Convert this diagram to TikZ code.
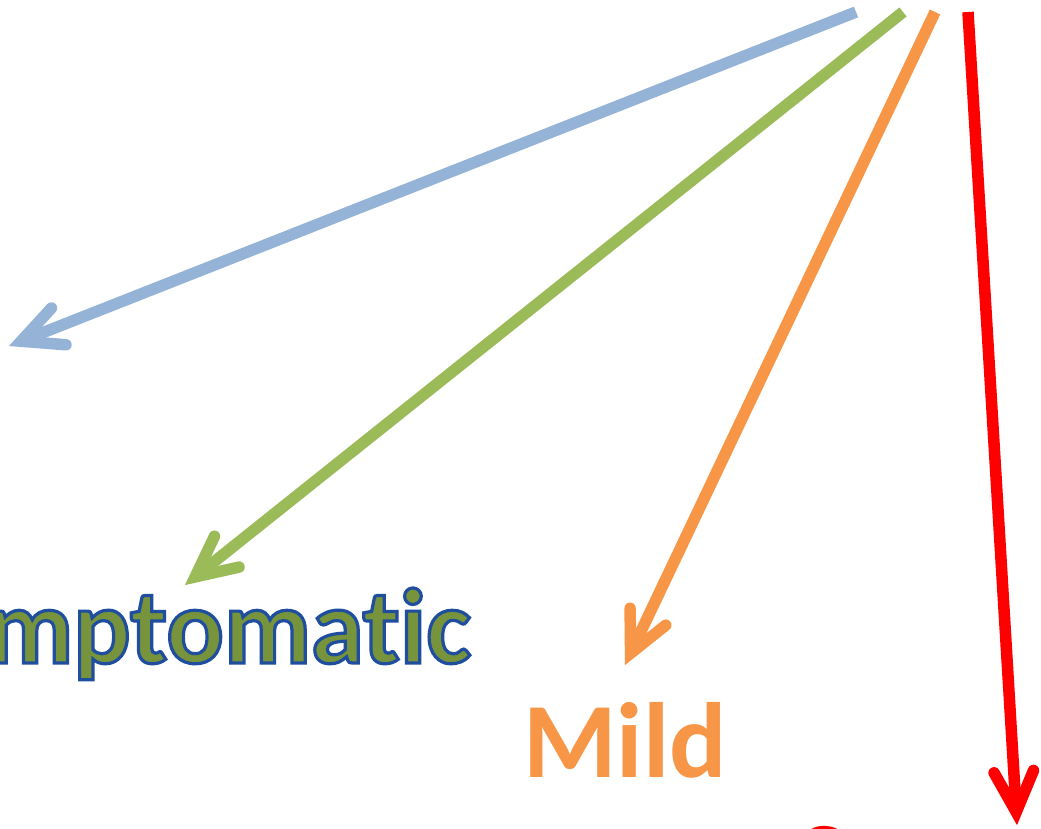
\documentclass[tikz,border=0pt]{standalone}
\usepackage{fontspec}
\setmainfont{Carlito}[Ligatures={NoCommon,NoContextual}]
\usetikzlibrary{calc}
\definecolor{arrowblue}{HTML}{95B3D7}
\definecolor{arrowgreen}{HTML}{9BBB59}
\definecolor{arroworange}{HTML}{F79646}
\definecolor{arrowred}{HTML}{FF0000}
\definecolor{textgreen}{HTML}{77933C}
\definecolor{outlineblue}{HTML}{1F4E9F}
\newcommand{\outlinedtext}[1]{\special{pdf:literal direct 2 Tr 3.2 w 0.122 0.306 0.624 RG}#1\special{pdf:literal direct 0 Tr}}
\tikzset{
  arrowline/.style={line width=11.5pt, line cap=butt},
  arrowbarb/.style={line width=11.5pt, line cap=round, line join=miter, miter limit=10},
  bigtext/.style={inner sep=0pt, font=\fontsize{107}{120}\selectfont\bfseries}
}
\begin{document}
\begin{tikzpicture}[x=1pt,y=-1pt]
\useasboundingbox (0,0) rectangle (1041,828);
\clip (0,0) rectangle (1041,828);
\fill[white] (0,0) rectangle (1041,828);
\foreach \n/\sx/\sy/\tx/\ty/\c in {a/856/12/9/346/arrowblue, b/903/12/185/585/arrowgreen, c/935/12/625/665/arroworange, d/968/12/1017/825/arrowred}{
  \coordinate (\n s) at (\sx,\sy);
  \coordinate (\n t) at (\tx,\ty);
  \coordinate (\n v) at ($(\n t)!13pt!(\n s)$);
  \draw[arrowline, \c] (\n s) -- (\n v);
  \draw[arrowbarb, \c] ($(\n v)!45pt!26:(\n s)$) -- (\n v) -- ($(\n v)!45pt!-26:(\n s)$);
}
\node[bigtext, anchor=base east, text=textgreen] (asym) at (471,663) {\outlinedtext{Asymptomatic}};
\node[bigtext, anchor=base west, text=arroworange] (mild) at (523,777) {Mild};
\node[bigtext, anchor=base west, text=arrowred] (severe) at (797,896) {Severe};
\end{tikzpicture}
\end{document}
